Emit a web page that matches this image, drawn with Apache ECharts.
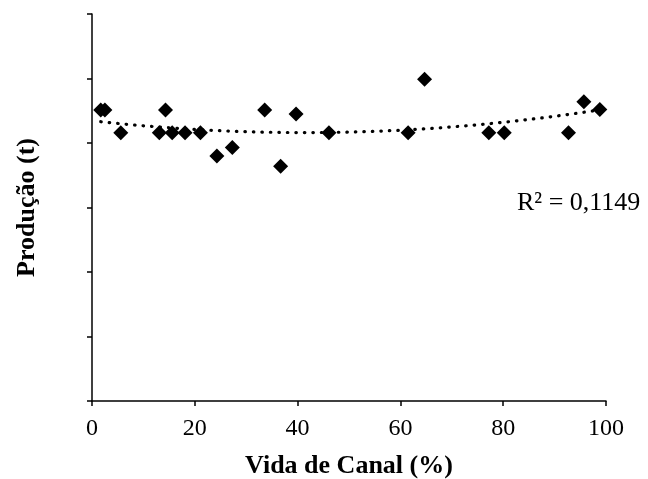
<!DOCTYPE html>
<html><head><meta charset="utf-8">
<script src="https://cdn.jsdelivr.net/npm/echarts@6/dist/echarts.min.js"></script>
<style>html,body{margin:0;padding:0;background:#fff}#c{width:648px;height:479px}</style>
</head><body><div id="c"></div>
<script>
var xValues = [1.7, 2.5, 5.6, 13.1, 14.3, 15.6, 18.1, 21.1, 24.3, 27.3, 33.6, 36.7, 39.7, 46.1, 61.5, 64.7, 77.2, 80.2, 92.7, 95.7, 98.8];
var yValues = [4.51, 4.51, 4.16, 4.16, 4.51, 4.16, 4.16, 4.16, 3.80, 3.93, 4.51, 3.64, 4.45, 4.16, 4.16, 4.99, 4.16, 4.16, 4.16, 4.64, 4.52];
var xTicks = [0, 20, 40, 60, 80, 100];
var r2Label = 'R² = 0,1149';

// least-squares quadratic trendline from the data
function quadFit(xs, ys) {
  var n = xs.length, S = [0,0,0,0,0], T = [0,0,0];
  for (var i = 0; i < n; i++) {
    var p = 1;
    for (var k = 0; k < 5; k++) { S[k] += p; if (k < 3) T[k] += p * ys[i]; p *= xs[i]; }
  }
  var A = [[S[0],S[1],S[2],T[0]],[S[1],S[2],S[3],T[1]],[S[2],S[3],S[4],T[2]]];
  for (var c = 0; c < 3; c++) {
    for (var r = c + 1; r < 3; r++) {
      var f = A[r][c] / A[c][c];
      for (var j = c; j < 4; j++) A[r][j] -= f * A[c][j];
    }
  }
  var b = [0,0,0];
  for (var r2 = 2; r2 >= 0; r2--) {
    var s = A[r2][3];
    for (var j2 = r2 + 1; j2 < 3; j2++) s -= A[r2][j2] * b[j2];
    b[r2] = s / A[r2][r2];
  }
  return b;
}
var coef = quadFit(xValues, yValues);
var xmin = Math.min.apply(null, xValues), xmax = Math.max.apply(null, xValues);
var trend = [];
for (var i = 0; i <= 100; i++) {
  var x = xmin + (xmax - xmin) * i / 100;
  trend.push([x, coef[0] + coef[1] * x + coef[2] * x * x]);
}

var chart = echarts.init(document.getElementById('c'));
var font = '"Liberation Serif", "Times New Roman", serif';
chart.setOption({
  animation: false,
  grid: {left: 92, right: 42, top: 14, bottom: 78, outerBoundsMode: 'none', containLabel: false},
  xAxis: {
    type: 'value', min: 0, max: 100, interval: 20,
    name: 'Vida de Canal (%)', nameLocation: 'middle', nameGap: 52,
    nameTextStyle: {fontFamily: font, fontSize: 26, fontWeight: 'bold', color: '#000'},
    axisLine: {lineStyle: {color: '#000', width: 1.5}},
    axisTick: {show: true, length: 5, lineStyle: {color: '#000', width: 1.5}},
    axisLabel: {fontFamily: font, fontSize: 24, color: '#000', margin: 16,
      formatter: function (v) { return xTicks.indexOf(v) >= 0 ? String(v) : ''; }},
    splitLine: {show: false}
  },
  yAxis: {
    type: 'value', min: 0, max: 6, interval: 1,
    name: 'Produção (t)', nameLocation: 'middle', nameGap: 52, nameRotate: 90,
    nameTextStyle: {fontFamily: font, fontSize: 26, fontWeight: 'bold', color: '#000'},
    axisLine: {show: true, lineStyle: {color: '#000', width: 1.5}},
    axisTick: {show: true, length: 5, lineStyle: {color: '#000', width: 1.5}},
    axisLabel: {show: false},
    splitLine: {show: false}
  },
  series: [
    {
      type: 'line', data: trend, showSymbol: false, symbol: 'none', z: 1,
      lineStyle: {color: '#000', width: 3.2, type: [0.5, 8], cap: 'round'}
    },
    {
      type: 'scatter', symbol: 'diamond', symbolSize: 15, z: 2,
      itemStyle: {color: '#000', opacity: 1},
      data: xValues.map(function (x, i) { return [x, yValues[i]]; })
    }
  ],
  graphic: [{
    type: 'text', left: 517, top: 190,
    style: {text: r2Label, fontFamily: font, fontSize: 26, fill: '#000'}
  }]
});
</script></body></html>
